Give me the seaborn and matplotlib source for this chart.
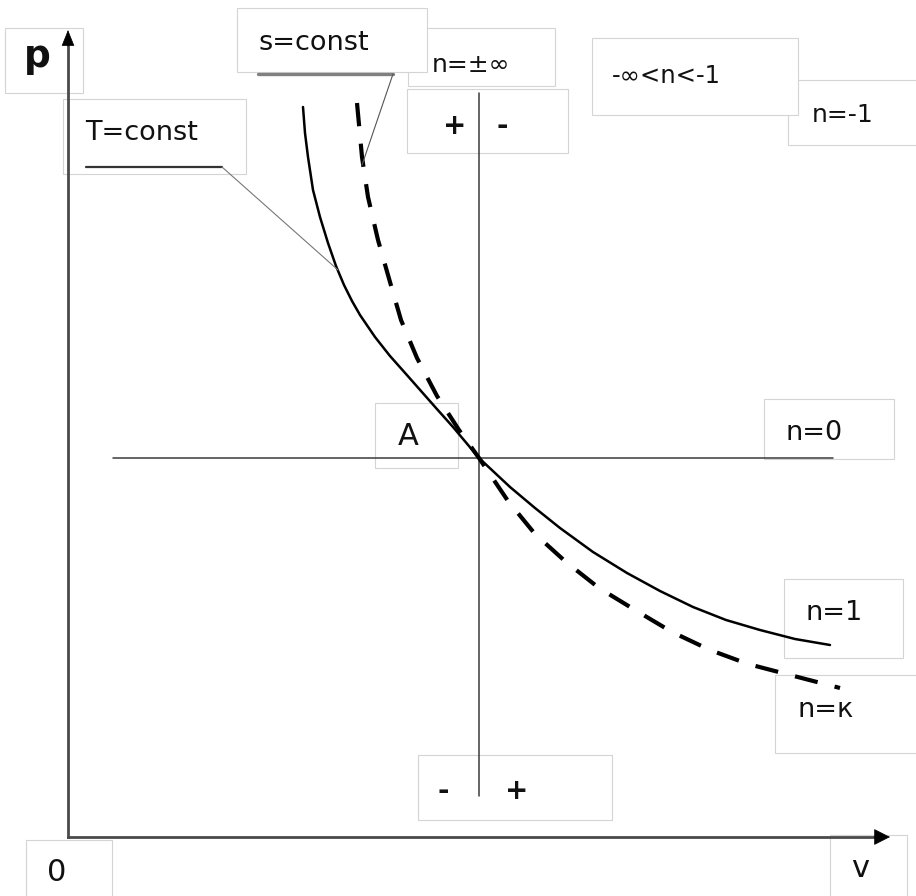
import numpy as np
import pandas as pd
import matplotlib
matplotlib.use("Agg")
import matplotlib.pyplot as plt
from matplotlib.patches import Rectangle
import seaborn as sns

# ---- data (diagram units: v to the right, p upwards, origin at the axes corner) ----
v_isotherm = [235, 237, 240, 245, 252, 260, 268, 276, 284, 292, 307, 322, 338,
              353, 368, 385, 411, 442, 467, 492, 525, 559, 592, 625, 658, 692,
              727, 762]
p_isotherm = [730, 704, 680, 647, 620, 594, 571, 552, 536, 522, 500, 481, 463,
              446, 429, 410, 379, 350, 329, 309, 285, 264, 246, 230, 217, 207,
              198, 192]
v_adiabat = [289, 294, 300, 310, 322, 333, 349, 369, 391, 411, 440, 467, 498,
             531, 567, 604, 642, 680, 722, 772]
p_adiabat = [734, 680, 640, 597, 555, 517, 479, 441, 407, 379, 336, 303, 275,
             249, 227, 205, 187, 173, 162, 149]
v_isobar = [45, 765]
p_isobar = [379, 379]
v_isochore = [411, 411]
p_isochore = [744, 41]
v_axis_end = 822
p_axis_end = 807

label_isotherm = "T=const"
label_adiabat = "s=const"
label_isochore = "n=±∞"
label_range = "-∞<n<-1"
label_nm1 = "n=-1"
label_isobar = "n=0"
label_n1 = "n=1"
label_nk = "n=к"
label_point = "A"
label_p = "p"
label_v = "v"
label_zero = "0"

sns.set_style("white")
plt.rcParams["font.family"] = ["DejaVu Sans"]

fig = plt.figure(figsize=(9.16, 8.96), dpi=100)
ax = fig.add_axes([0, 0, 1, 1])
ax.set_xlim(-68, 848)
ax.set_ylim(-59, 837)
ax.axis("off")


def P(x, y):
    """picture pixel -> diagram coordinates (layout helper)"""
    return (x - 68, 837 - y)


def box(x0, y0, x1, y1, z=1.0):
    ax.add_patch(Rectangle(P(x0, y1), x1 - x0, y1 - y0, fc="white",
                           ec="#d4d4d4", lw=0.8, zorder=z))


def txt(x, y, s, size=19.5, ha="left", weight="normal"):
    ax.text(*P(x, y), s, fontsize=size, ha=ha, va="baseline",
            fontweight=weight, color="#111111", zorder=10)


# ---- label boxes ----
box(5, 28, 83, 93, 1.0)          # p
box(63, 99, 246, 174, 1.0)       # T=const
box(408, 28, 555, 86, 1.0)       # n=±inf
box(237, 8, 427, 72, 1.1)        # s=const
box(407, 89, 568, 153, 1.0)      # + -
box(788, 80, 930, 145, 1.0)      # n=-1
box(592, 38, 798, 115, 1.1)      # -inf<n<-1
box(375, 403, 458, 468, 1.0)     # A
box(764, 399, 894, 459, 1.0)     # n=0
box(784, 579, 903, 658, 1.0)     # n=1
box(775, 675, 930, 753, 1.0)     # n=k
box(418, 755, 612, 820, 1.0)     # - +
box(26, 840, 112, 905, 1.0)      # 0
box(830, 835, 907, 905, 1.0)     # v

# ---- process lines ----
sns.lineplot(x=v_isobar, y=p_isobar, ax=ax, color="#3a3a3a", lw=1.1,
             sort=False, estimator=None, zorder=4)
sns.lineplot(x=v_isochore, y=p_isochore, ax=ax, color="#3a3a3a", lw=1.1,
             sort=False, estimator=None, zorder=4)
sns.lineplot(x=v_isotherm, y=p_isotherm, ax=ax, color="black", lw=1.8,
             sort=False, estimator=None, zorder=5)
ax.lines[-1].set_solid_joinstyle("round")
sns.lineplot(x=v_adiabat, y=p_adiabat, ax=ax, color="black", lw=3.0,
             sort=False, estimator=None, zorder=5)
ax.lines[-1].set_dashes((5.6, 4.2))
ax.lines[-1].set_dash_capstyle("butt")

# ---- axes arrows ----
ax.plot([0, 0], [0, p_axis_end - 12], color="#4a4a4a", lw=2.0, zorder=6,
        solid_capstyle="projecting")
ax.plot([0, v_axis_end - 12], [0, 0], color="#4a4a4a", lw=2.0, zorder=6,
        solid_capstyle="projecting")
ax.annotate("", xy=(0, p_axis_end), xytext=(0, p_axis_end - 16),
            arrowprops=dict(arrowstyle="-|>,head_length=0.75,head_width=0.3",
                            mutation_scale=14, color="black", lw=0.5,
                            shrinkA=0, shrinkB=0), zorder=7)
ax.annotate("", xy=(v_axis_end, 0), xytext=(v_axis_end - 16, 0),
            arrowprops=dict(arrowstyle="-|>,head_length=0.75,head_width=0.38",
                            mutation_scale=14, color="black", lw=0.5,
                            shrinkA=0, shrinkB=0), zorder=7)

# ---- callout lines ----
ax.plot(*zip(P(86, 167), P(222, 167)), color="#333333", lw=1.6, zorder=6)
ax.plot(*zip(P(222, 167), P(338, 270)), color="#777777", lw=0.8, zorder=6)
ax.plot(*zip(P(258, 74), P(393, 74)), color="#808080", lw=2.4, zorder=6)
ax.plot(*zip(P(393, 74), P(362, 165)), color="#555555", lw=0.8, zorder=6)

# ---- texts ----
txt(37, 67, label_p, size=27, ha="center", weight="bold")
txt(85, 140, label_isotherm)
txt(258, 50, label_adiabat)
txt(432, 72, label_isochore, size=18)
txt(455, 134, "+", size=20, ha="center", weight="bold")
txt(502, 134, "-", size=20, ha="center", weight="bold")
txt(612, 83, label_range, size=17.5)
txt(812, 122, label_nm1, size=18)
txt(408, 445, label_point, size=22, ha="center")
txt(786, 440, label_isobar)
txt(806, 620, label_n1)
txt(798, 717, label_nk)
txt(443, 799, "-", size=20, ha="center", weight="bold")
txt(517, 799, "+", size=20, ha="center", weight="bold")
txt(57, 881, label_zero, size=22, ha="center")
txt(860, 877, label_v, size=22, ha="center")

fig.savefig("out.png", dpi=100)
